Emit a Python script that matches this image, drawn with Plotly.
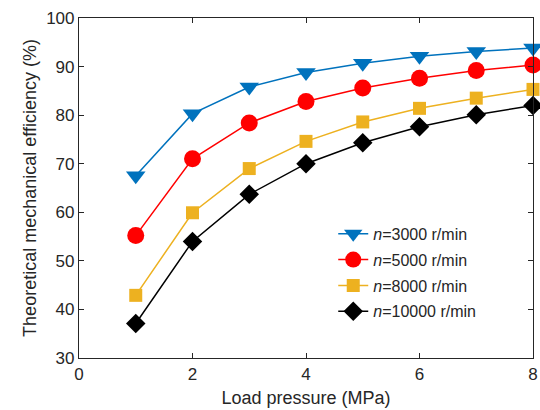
import plotly.graph_objects as go

x = [1, 2, 3, 4, 5, 6, 7, 8]
eff_3000 = [67.5, 80.3, 85.8, 88.8, 90.7, 92.1, 93.1, 93.8]
eff_5000 = [55.2, 71.0, 78.4, 82.8, 85.6, 87.6, 89.2, 90.3]
eff_8000 = [42.9, 59.9, 69.0, 74.6, 78.6, 81.4, 83.5, 85.3]
eff_10000 = [37.1, 54.0, 63.7, 70.0, 74.3, 77.6, 80.1, 82.0]

names = ["<i>n</i>=3000 r/min", "<i>n</i>=5000 r/min", "<i>n</i>=8000 r/min", "<i>n</i>=10000 r/min"]
series = [eff_3000, eff_5000, eff_8000, eff_10000]
colors = ["#0072BD", "#FF0000", "#EDB120", "#000000"]
symbols = ["triangle-down", "circle", "square", "diamond"]
sizes = [17, 17, 13, 15]

fig = go.Figure()
for i, (name, y, c, s, sz) in enumerate(zip(names, series, colors, symbols, sizes)):
    fig.add_trace(go.Scatter(
        x=x, y=y, name=name, mode="lines+markers", legendgroup=f"g{i}",
        line=dict(color=c, width=1.5),
        marker=dict(symbol=s, size=sz, color=c, line=dict(width=0)),
        cliponaxis=False,
    ))

axis_common = dict(
    showline=True, linecolor="#262626", linewidth=1.2, mirror="ticks",
    ticks="inside", ticklen=5, tickcolor="#262626", tickwidth=1,
    showgrid=False, zeroline=False, automargin=False,
    tickfont=dict(family="Liberation Sans, Arial, sans-serif", size=17, color="#262626"),
)

fig.update_layout(
    width=540, height=410,
    margin=dict(l=79, r=7, t=18, b=52),
    paper_bgcolor="white", plot_bgcolor="white",
    font=dict(family="Liberation Sans, Arial, sans-serif", color="#262626"),
    xaxis=dict(range=[0, 8], tickvals=[0, 2, 4, 6, 8],
               title=dict(text="Load pressure (MPa)", font=dict(size=18), standoff=8),
               **axis_common),
    yaxis=dict(range=[30, 100], tickvals=[30, 40, 50, 60, 70, 80, 90, 100],
               title=dict(text="Theoretical mechanical efficiency (%)", font=dict(size=18), standoff=4),
               **axis_common),
    legend=dict(x=0.56, y=0.415, xanchor="left", yanchor="top",
                bgcolor="rgba(0,0,0,0)", font=dict(size=16, color="#262626"),
                tracegroupgap=2, itemwidth=30),
    showlegend=True,
)

fig.write_html("out.html")
